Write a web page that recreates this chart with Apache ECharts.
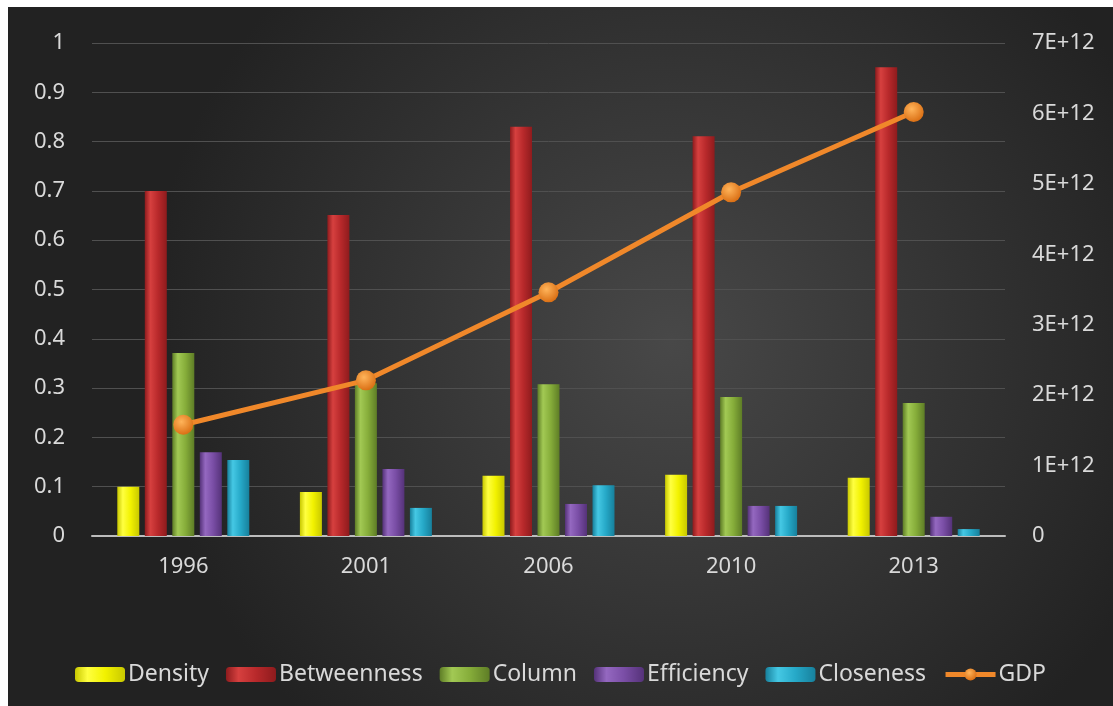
<!DOCTYPE html>
<html style="height: 100%">
<head>
  <meta charset="utf-8">
  <script src="https://cdn.jsdelivr.net/npm/echarts@6/dist/echarts.min.js"></script>
</head>
<body style="height: 100%; margin: 0; background: #fff">
  <div id="main" style="position: absolute; left: 8px; top: 7px; width: 1105px; height: 699px;"></div>
  <script type="text/javascript">
var years = ['1996', '2001', '2006', '2010', '2013'];
var density = [0.1, 0.089, 0.122, 0.124, 0.118];
var betweenness = [0.70, 0.651, 0.83, 0.811, 0.951];
var column = [0.371, 0.31, 0.308, 0.282, 0.27];
var efficiency = [0.17, 0.136, 0.065, 0.061, 0.039];
var closeness = [0.154, 0.057, 0.103, 0.061, 0.014];
var gdp = [1.58e12, 2.21e12, 3.46e12, 4.88e12, 6.02e12];

var chart = echarts.init(document.getElementById('main'));
var font = '"Noto Sans", "Open Sans", sans-serif';

// cylinder-ish shading for the bars
function shade(dark, mid, light) {
  return new echarts.graphic.LinearGradient(0, 0, 1, 0, [
    { offset: 0, color: dark },
    { offset: 0.25, color: light },
    { offset: 0.6, color: mid },
    { offset: 1, color: dark }
  ]);
}

function barSeries(name, data, c) {
  return {
    name: name,
    type: 'bar',
    data: data,
    barWidth: 22,
    barGap: '25%',
    itemStyle: { color: c }
  };
}

var option = {
  backgroundColor: new echarts.graphic.RadialGradient(0.6, 0.48, 0.75, [
    { offset: 0, color: '#484848' },
    { offset: 1, color: '#222222' }
  ]),
  textStyle: { fontFamily: font },
  grid: { left: 84, right: 108, top: 36, bottom: 170 },
  legend: {
    bottom: 15,
    left: 'center',
    itemWidth: 50,
    itemHeight: 15,
    itemGap: 17,
    textStyle: { color: '#d9d9d9', fontSize: 23, fontFamily: font, padding: [0, 0, 0, -2] },
    data: ['Density', 'Betweenness', 'Column', 'Efficiency', 'Closeness',
      { name: 'GDP', lineStyle: { width: 5 } }]
  },
  xAxis: {
    type: 'category',
    data: years,
    axisTick: { show: false },
    axisLine: { lineStyle: { color: '#bdbdbd', width: 2 } },
    axisLabel: { color: '#d9d9d9', fontSize: 22, margin: 20 }
  },
  yAxis: [{
    type: 'value',
    min: 0,
    max: 1,
    interval: 0.1,
    axisLabel: { color: '#d9d9d9', fontSize: 22, margin: 27 },
    splitLine: { lineStyle: { color: '#505050', width: 1 } }
  }, {
    type: 'value',
    min: 0,
    max: 7e12,
    interval: 1e12,
    axisLabel: {
      color: '#d9d9d9',
      fontSize: 22,
      margin: 27,
      formatter: function (v) { return v === 0 ? '0' : (v / 1e12) + 'E+12'; }
    },
    splitLine: { show: false }
  }],
  series: [
    barSeries('Density', density, shade('#c8c800', '#f2f200', '#ffff40')),
    barSeries('Betweenness', betweenness, shade('#8e1b1d', '#b8292b', '#d6403f')),
    barSeries('Column', column, shade('#5e7d26', '#86ad3a', '#a2c954')),
    barSeries('Efficiency', efficiency, shade('#553279', '#7a4ea6', '#9468c0')),
    barSeries('Closeness', closeness, shade('#17809c', '#26a9c8', '#45c8e4')),
    {
      name: 'GDP',
      type: 'line',
      yAxisIndex: 1,
      data: gdp,
      symbol: 'circle',
      symbolSize: 20,
      lineStyle: { color: '#f0882a', width: 5 },
      itemStyle: {
        color: new echarts.graphic.RadialGradient(0.4, 0.35, 0.7, [
          { offset: 0, color: '#ffb45a' },
          { offset: 1, color: '#d86b10' }
        ]),
        borderWidth: 0
      },
      z: 5
    }
  ]
};
chart.setOption(option);
  </script>
</body>
</html>
